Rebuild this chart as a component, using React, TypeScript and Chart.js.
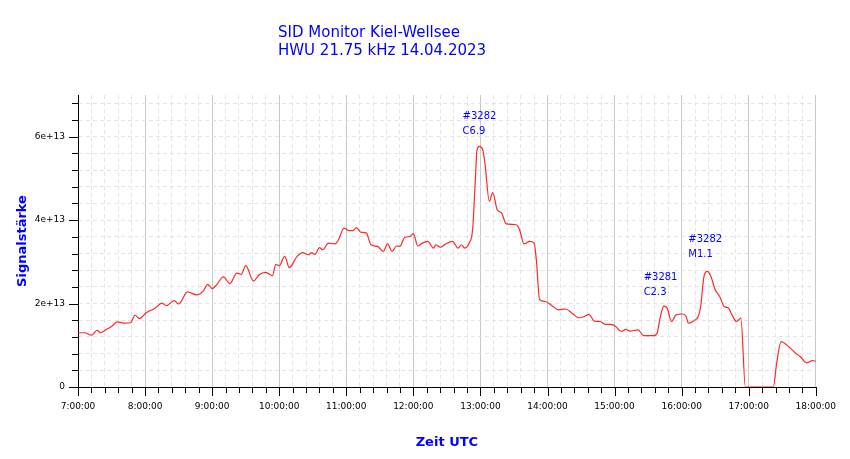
import { useEffect, useRef } from "react";
import { Chart, registerables } from "chart.js";

Chart.register(...registerables);

// Messzeitpunkte (UTC) und Signalstärke in Einheiten von 1e13
const zeiten = [
  "7:00", "7:06", "7:12", "7:17", "7:20", "7:26", "7:30", "7:35", "7:42", "7:47", "7:51", "7:55",
  "8:01", "8:09", "8:15", "8:19", "8:26", "8:30", "8:38", "8:46", "8:52", "8:56",
  "9:00", "9:04", "9:10", "9:16", "9:22", "9:26", "9:30", "9:37", "9:42", "9:48", "9:54", "9:57",
  "10:00", "10:05", "10:09", "10:16", "10:21", "10:26", "10:29", "10:32", "10:36", "10:39", "10:44", "10:50", "10:53", "10:58",
  "11:02", "11:06", "11:09", "11:13", "11:18", "11:22", "11:28", "11:33", "11:37", "11:41", "11:45", "11:48", "11:52", "11:57",
  "12:00", "12:04", "12:08", "12:13", "12:18", "12:20", "12:24", "12:29", "12:35", "12:40", "12:43", "12:46", "12:50", "12:53", "12:55", "12:57", "12:59",
  "13:02", "13:04", "13:08", "13:11", "13:15", "13:19", "13:23", "13:32", "13:35", "13:39", "13:44", "13:48", "13:50", "13:53", "13:58",
  "14:04", "14:10", "14:16", "14:22", "14:28", "14:33", "14:37", "14:42", "14:47", "14:52", "14:57",
  "15:01", "15:06", "15:10", "15:14", "15:21", "15:26", "15:35", "15:38", "15:41", "15:44", "15:47", "15:51", "15:55",
  "16:01", "16:04", "16:06", "16:11", "16:15", "16:17", "16:20", "16:23", "16:26", "16:30", "16:34", "16:38", "16:42", "16:45", "16:49", "16:51", "16:53", "16:57",
  "17:22", "17:25", "17:29", "17:34", "17:42", "17:46", "17:52", "17:57", "18:00",
];

const signal = [
  1.30, 1.30, 1.24, 1.36, 1.30, 1.39, 1.45, 1.56, 1.53, 1.54, 1.72, 1.64,
  1.78, 1.89, 2.01, 1.95, 2.07, 1.99, 2.28, 2.21, 2.30, 2.46,
  2.36, 2.45, 2.64, 2.48, 2.73, 2.70, 2.91, 2.54, 2.69, 2.75, 2.67, 2.94,
  2.91, 3.13, 2.86, 3.13, 3.22, 3.17, 3.22, 3.18, 3.34, 3.29, 3.45, 3.43, 3.53, 3.81,
  3.75, 3.75, 3.82, 3.71, 3.69, 3.41, 3.37, 3.25, 3.43, 3.25, 3.38, 3.37, 3.58, 3.61,
  3.67, 3.38, 3.45, 3.49, 3.33, 3.41, 3.35, 3.43, 3.49, 3.33, 3.41, 3.33, 3.45, 3.77, 4.73, 5.69, 5.77,
  5.69, 5.37, 4.45, 4.66, 4.25, 4.17, 3.91, 3.89, 3.77, 3.43, 3.49, 3.45, 3.05, 2.09, 2.05,
  1.95, 1.85, 1.87, 1.77, 1.66, 1.69, 1.74, 1.58, 1.57, 1.50, 1.50,
  1.45, 1.33, 1.38, 1.34, 1.37, 1.23, 1.23, 1.29, 1.69, 1.94, 1.89, 1.57, 1.73,
  1.75, 1.69, 1.53, 1.59, 1.70, 1.93, 2.65, 2.77, 2.66, 2.33, 2.17, 1.93, 1.89, 1.73, 1.57, 1.61, 1.65, 0,
  0, 0.57, 1.09, 1.01, 0.81, 0.73, 0.58, 0.63, 0.62,
];

// Flare-Beschriftungen
const flareZeiten = ["12:44", "15:26", "16:06"];
const flareWerte = [6.49, 2.63, 3.55];
const flareTexte = [
  ["#3282", "C6.9"],
  ["#3281", "C2.3"],
  ["#3282", "M1.1"],
];

const titel = ["SID Monitor Kiel-Wellsee", "HWU 21.75 kHz 14.04.2023"];

const EINHEIT = 1e13;
const Y_MAX = 7e13;
const Y_SCHRITT = 4e12;
const BLAU = "#0000ff";
const SCHRIFT = "DejaVu Sans";

const inMinuten = (s: string) => {
  const [h, m] = s.split(":").map(Number);
  return h * 60 + m;
};

const istStunde = (v: number) => v % 60 === 0;
const istHaupt = (v: number) => {
  const q = v / 2e13;
  return Math.abs(q - Math.round(q)) < 1e-6;
};

const beschriftung = {
  id: "beschriftung",
  afterDraw(chart: any) {
    const { ctx, scales } = chart;
    const x = scales.x;
    const y = scales.y;
    ctx.save();

    ctx.fillStyle = BLAU;
    ctx.font = `15px '${SCHRIFT}'`;
    ctx.textAlign = "left";
    ctx.textBaseline = "alphabetic";
    ctx.fillText(titel[0], 278, 37);
    ctx.fillText(titel[1], 278, 55);

    // Teilstriche: lang bei Haupt-, kurz bei Nebenwerten
    ctx.strokeStyle = "#000";
    ctx.lineWidth = 1;
    ctx.beginPath();
    x.ticks.forEach((t: any) => {
      const px = Math.round(x.getPixelForValue(t.value)) + 0.5;
      const len = istStunde(t.value) ? 9 : 6;
      ctx.moveTo(px, x.top);
      ctx.lineTo(px, x.top + len);
    });
    y.ticks.forEach((t: any) => {
      const py = Math.round(y.getPixelForValue(t.value)) + 0.5;
      const len = istHaupt(t.value) ? 9 : 6;
      ctx.moveTo(y.right - len, py);
      ctx.lineTo(y.right, py);
    });
    ctx.stroke();

    ctx.fillStyle = BLAU;
    ctx.font = `10px '${SCHRIFT}'`;
    ctx.textBaseline = "middle";
    flareZeiten.forEach((z, i) => {
      const px = x.getPixelForValue(inMinuten(z));
      const py = y.getPixelForValue(flareWerte[i] * EINHEIT);
      flareTexte[i].forEach((zeile, k) => ctx.fillText(zeile, px, py + k * 15));
    });

    ctx.restore();
  },
};

function App() {
  const canvasRef = useRef<HTMLCanvasElement | null>(null);

  useEffect(() => {
    if (!canvasRef.current) return;
    const punkte = zeiten.map((z, i) => ({ x: inMinuten(z), y: signal[i] * EINHEIT }));

    const chart = new Chart(canvasRef.current, {
      type: "line",
      data: {
        datasets: [
          {
            data: punkte,
            borderColor: "rgb(255, 40, 40)",
            borderWidth: 1.2,
            pointRadius: 0,
            cubicInterpolationMode: "monotone",
            fill: false,
          },
        ],
      },
      options: {
        animation: false,
        responsive: true,
        maintainAspectRatio: false,
        layout: { padding: { left: 11, right: 33, top: 95, bottom: 5 } },
        plugins: {
          legend: { display: false },
          tooltip: { enabled: false },
        },
        scales: {
          x: {
            type: "linear",
            min: 420,
            max: 1080,
            afterFit: (s: any) => {
              s.height = 67;
            },
            ticks: {
              stepSize: 12,
              autoSkip: false,
              maxRotation: 0,
              padding: 14,
              color: "#000",
              font: { family: SCHRIFT, size: 9 },
              callback: (v: any) => (istStunde(v) ? `${v / 60}:00:00` : ""),
            },
            grid: {
              drawTicks: false,
              color: (c: any) => (c.tick && istStunde(c.tick.value) ? "#c8c8c8" : "#e4e4e4"),
            },
            border: {
              color: "#000",
              width: 1,
              dash: (c: any) => (c.tick && !istStunde(c.tick.value) ? [4, 3] : []),
            },
            title: {
              display: true,
              text: "Zeit UTC",
              color: BLAU,
              font: { family: SCHRIFT, size: 13, weight: "bold" },
              padding: { top: 4, bottom: 4 },
            },
          },
          y: {
            min: 0,
            max: Y_MAX,
            // Ticks alle 0.4e13 (Chart.js rundet bei so großen Zahlen falsch)
            afterBuildTicks: (s: any) => {
              const ticks = [];
              for (let v = 0; v < Y_MAX; v += Y_SCHRITT) ticks.push({ value: v });
              s.ticks = ticks;
            },
            afterFit: (s: any) => {
              s.width = 67;
            },
            ticks: {
              autoSkip: false,
              padding: 13,
              color: "#000",
              font: { family: SCHRIFT, size: 9 },
              callback: (v: any) => {
                const n = Number(v);
                if (n === 0) return "0";
                return istHaupt(n) ? `${Math.round(n / EINHEIT)}e+13` : "";
              },
            },
            grid: {
              drawTicks: false,
              color: "#e4e4e4",
            },
            border: {
              color: "#000",
              width: 1,
              dash: (c: any) => (c.tick ? [4, 3] : []),
            },
            title: {
              display: true,
              text: "Signalstärke",
              color: BLAU,
              font: { family: SCHRIFT, size: 13, weight: "bold" },
              padding: { top: 4, bottom: 4 },
            },
          },
        },
      },
      plugins: [beschriftung],
    });

    return () => {
      chart.destroy();
    };
  }, []);

  return (
    <div style={{ position: "fixed", left: 0, top: 0, width: 850, height: 459, background: "#fff" }}>
      <canvas ref={canvasRef} />
    </div>
  );
}

export default App;
